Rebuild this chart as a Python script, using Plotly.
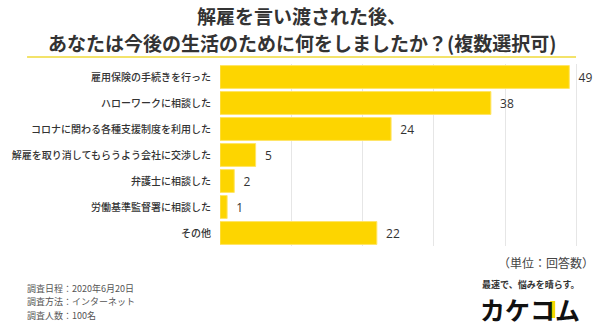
import plotly.graph_objects as go

categories = [
    "雇用保険の手続きを行った",
    "ハローワークに相談した",
    "コロナに関わる各種支援制度を利用した",
    "解雇を取り消してもらうよう会社に交渉した",
    "弁護士に相談した",
    "労働基準監督署に相談した",
    "その他",
]
values = [49, 38, 24, 5, 2, 1, 22]
title_lines = ["解雇を言い渡された後、", "あなたは今後の生活のために何をしましたか？(複数選択可)"]
footer_lines = ["調査日程：2020年6月20日", "調査方法：インターネット", "調査人数：100名"]
unit_label = "（単位：回答数）"
tagline = "最速で、悩みを晴らす。"
logo_text = "カケコム"

W, H = 600, 336
L, R, T, B = 218, 20, 64, 90
PW, PH = W - L - R, H - T - B
JP = "Noto Sans CJK JP"
BAR = "#FDD500"


def px(x):
    return (x - L) / PW


def py(y):
    return (H - B - y) / PH


fig = go.Figure(
    go.Bar(
        x=values,
        y=categories,
        orientation="h",
        marker=dict(color=BAR, line=dict(color="#FFE566", width=1)),
        text=["\u00a0\u00a0" + str(v) for v in values],
        textposition="outside",
        textfont=dict(family="Open Sans", size=12, color="#333333"),
        cliponaxis=False,
        hoverinfo="skip",
    )
)

annotations = []
for i, (line, yy) in enumerate(zip(title_lines, [15, 43])):
    annotations.append(dict(text=line, x=px(300), y=py(yy), xref="paper", yref="paper",
                            showarrow=False, xanchor="center", yanchor="middle",
                            font=dict(family=JP, size=19, color="#333333", weight="bold")))
for i, line in enumerate(footer_lines):
    annotations.append(dict(text=line, x=px(22), y=py(288 + 13.5 * i), xref="paper", yref="paper",
                            showarrow=False, xanchor="left", yanchor="middle",
                            font=dict(family=JP, size=9, color="#555555")))
annotations.append(dict(text=unit_label, x=px(596), y=py(262), xref="paper", yref="paper",
                        showarrow=False, xanchor="right", yanchor="middle",
                        font=dict(family=JP, size=12, color="#444444")))
annotations.append(dict(text=tagline, x=px(531), y=py(284), xref="paper", yref="paper",
                        showarrow=False, xanchor="center", yanchor="middle",
                        font=dict(family=JP, size=9, color="#333333", weight="bold")))
annotations.append(dict(text=logo_text, x=px(530), y=py(309), xref="paper", yref="paper",
                        showarrow=False, xanchor="center", yanchor="middle",
                        font=dict(family=JP, size=25, color="#111111", weight="bold")))

shapes = [
    dict(type="line", xref="paper", yref="paper", x0=px(24), x1=px(576), y0=py(57), y1=py(57),
         line=dict(color="#F3E36A", width=2)),
    dict(type="rect", xref="paper", yref="paper", x0=px(550), x1=px(555), y0=py(318), y1=py(301),
         fillcolor="#F5D800", line=dict(width=0), layer="above"),
]

fig.update_layout(
    width=W, height=H,
    margin=dict(l=L, r=R, t=T, b=B),
    paper_bgcolor="white", plot_bgcolor="white",
    bargap=0.12,
    showlegend=False,
    xaxis=dict(range=[0, 50.5], dtick=10, showgrid=True, gridcolor="#E6E6E6", gridwidth=1,
               showticklabels=False, zeroline=False, showline=False, ticks=""),
    yaxis=dict(autorange="reversed", showgrid=False, zeroline=False, showline=False,
               ticks="", ticklabelstandoff=8,
               tickfont=dict(family=JP, size=10, color="#333333", weight=500)),
    annotations=annotations,
    shapes=shapes,
    font=dict(family=JP),
)

fig.write_html("out.html")
